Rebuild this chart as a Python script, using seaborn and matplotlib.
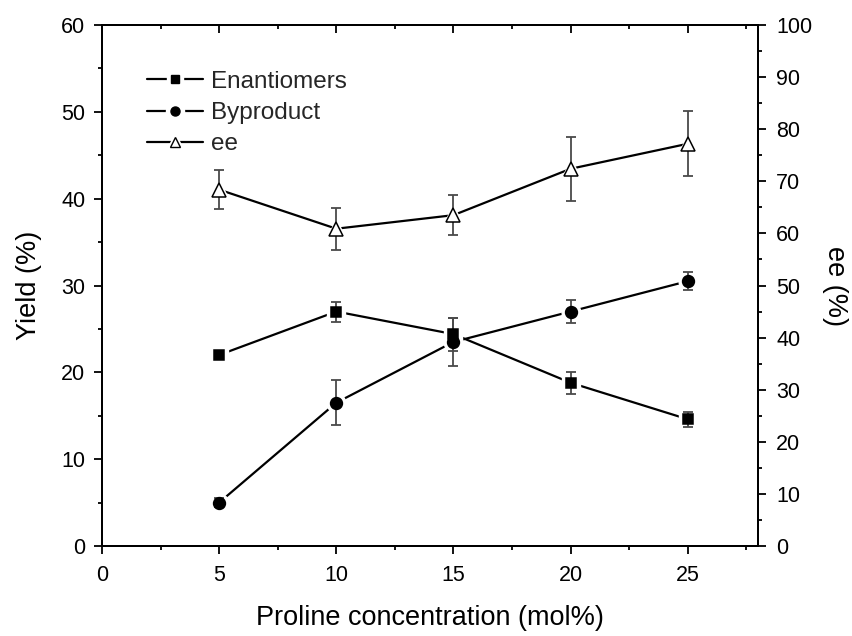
import matplotlib
matplotlib.use("Agg")
import matplotlib.pyplot as plt
from matplotlib.lines import Line2D
from matplotlib.ticker import MultipleLocator
import pandas as pd
import seaborn as sns

# Proline loading (mol%)
concentration = [5, 10, 15, 20, 25]

# Yields (%) with standard deviations
enantiomers = [22.0, 27.0, 24.4, 18.8, 14.6]
enantiomers_err = [0.0, 1.15, 1.9, 1.25, 0.85]
byproduct = [5.0, 16.5, 23.5, 27.0, 30.5]
byproduct_err = [0.5, 2.6, 2.8, 1.35, 1.05]

# Enantiomeric excess (%) with standard deviations
ee = [68.4, 60.9, 63.5, 72.4, 77.2]
ee_err = [3.8, 4.0, 3.8, 6.1, 6.2]

sns.set_theme(style="ticks")
plt.rcParams["font.family"] = ["Liberation Sans", "DejaVu Sans"]
plt.rcParams["axes.linewidth"] = 1.4

fig = plt.figure(figsize=(8.53, 6.36), dpi=100)
ax = fig.add_axes([0.1196, 0.1415, 0.769, 0.8192])
ax2 = ax.twinx()

df = pd.DataFrame({"conc": concentration, "enan": enantiomers,
                   "byp": byproduct, "ee": ee})

LW = 1.6
ERR_COLOR = "#4a4a4a"
TICK_FS = 15.5
LABEL_FS = 19.5


def draw_series(axis, y, yerr, marker, face, ms):
    sns.lineplot(data=df, x="conc", y=y, ax=axis, color="black", lw=LW,
                 zorder=2, legend=False)
    # white halo keeps the connecting line clear of the symbol
    axis.plot(df["conc"], df[y], ls="none", marker=marker, ms=ms + 5,
              mfc="white", mec="white", zorder=3)
    axis.errorbar(df["conc"], df[y], yerr=yerr, fmt="none", ecolor=ERR_COLOR,
                  elinewidth=1.3, capsize=3.8, capthick=1.3, zorder=4)
    axis.plot(df["conc"], df[y], ls="none", marker=marker, ms=ms,
              mfc=face, mec="black", mew=1.1, zorder=5)


draw_series(ax, "enan", enantiomers_err, "s", "black", 7.5)
draw_series(ax, "byp", byproduct_err, "o", "black", 8.5)
draw_series(ax2, "ee", ee_err, "^", "white", 9.5)

ax.set_xlim(0, 28)
ax.set_ylim(0, 60)
ax2.set_ylim(0, 100)

ax.xaxis.set_major_locator(MultipleLocator(5))
ax.xaxis.set_minor_locator(MultipleLocator(2.5))
ax.yaxis.set_major_locator(MultipleLocator(10))
ax.yaxis.set_minor_locator(MultipleLocator(5))
ax2.yaxis.set_major_locator(MultipleLocator(10))
ax2.yaxis.set_minor_locator(MultipleLocator(5))

ax.tick_params(axis="x", which="both", direction="out", top=True,
               labelsize=TICK_FS, colors="black", pad=8)
ax.tick_params(axis="y", which="both", direction="out", right=False,
               labelsize=TICK_FS, colors="black", pad=6)
ax2.tick_params(axis="y", which="both", direction="out",
                labelsize=TICK_FS, colors="black", pad=7)
for a in (ax, ax2):
    a.tick_params(which="major", length=6, width=1.3)
    a.tick_params(which="minor", length=3, width=1.3)
# top ticks point into the plot
for t in ax.xaxis.get_major_ticks() + ax.xaxis.get_minor_ticks():
    t.tick2line.set_marker(matplotlib.lines.TICKDOWN)

ax.set_xlabel("Proline concentration (mol%)", fontsize=LABEL_FS,
              labelpad=13, color="black")
ax.set_ylabel("Yield (%)", fontsize=LABEL_FS, labelpad=14, color="black")
ax2.set_ylabel("ee (%)", fontsize=LABEL_FS, rotation=270, labelpad=26,
               color="black")

for a in (ax, ax2):
    for s in a.spines.values():
        s.set_color("black")
        s.set_linewidth(1.4)


def legend_handle(marker, face, ms):
    line = Line2D([], [], color="black", lw=LW)
    halo = Line2D([], [], ls="none", marker=marker, ms=ms + 6.5, mfc="white",
                  mec="white")
    mark = Line2D([], [], ls="none", marker=marker, ms=ms, mfc=face,
                  mec="black", mew=1.0)
    return (line, halo, mark)


handles = [legend_handle("s", "black", 5.5), legend_handle("o", "black", 6.5),
           legend_handle("^", "white", 7.0)]
ax.legend(handles, ["Enantiomers", "Byproduct", "ee"], loc="upper left",
          bbox_to_anchor=(0.068, 0.912), frameon=False, fontsize=17.5,
          handlelength=2.3, handletextpad=0.35, labelspacing=0.38,
          borderaxespad=0, borderpad=0)

fig.savefig("out.png", dpi=100)
